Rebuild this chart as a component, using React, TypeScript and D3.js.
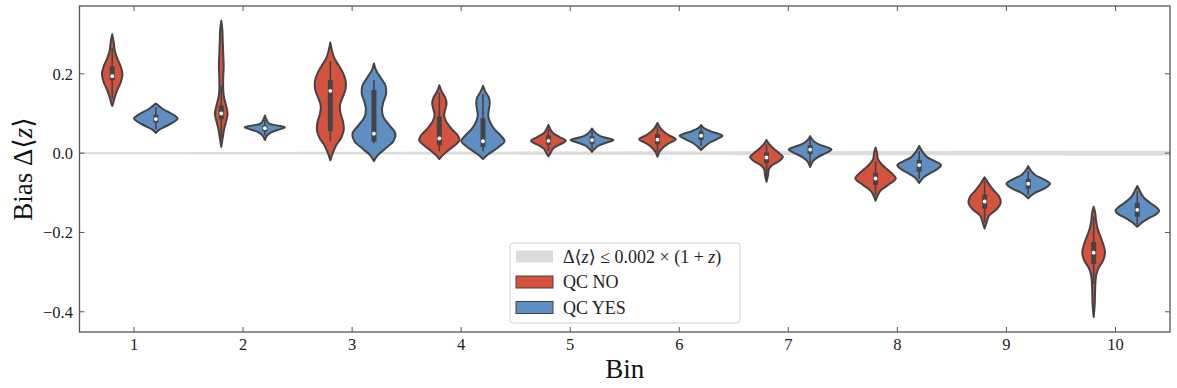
import React from "react";
import * as d3 from "d3";

// ---------- DATA ----------
const bins = ["1", "2", "3", "4", "5", "6", "7", "8", "9", "10"];
const yTicks = [-0.4, -0.2, 0.0, 0.2];
const zBinCenters = [0.3, 0.5, 0.7, 0.9, 1.1, 1.3, 1.5, 1.7, 1.9, 2.1];
const seriesNames = ["QC NO", "QC YES"];

// density profiles: [bias value, relative half-width]
const qcNoProfiles: [number, number][][] = [
  [[0.3, 0], [0.28, 0.07], [0.26, 0.11], [0.24, 0.22], [0.22, 0.38], [0.2, 0.47], [0.18, 0.4], [0.16, 0.24], [0.14, 0.11], [0.125, 0.04], [0.119, 0]],
  [[0.334, 0], [0.31, 0.05], [0.28, 0.07], [0.25, 0.09], [0.22, 0.11], [0.19, 0.09], [0.16, 0.09], [0.14, 0.13], [0.12, 0.22], [0.1, 0.29], [0.08, 0.22], [0.06, 0.13], [0.04, 0.07], [0.016, 0]],
  [[0.279, 0], [0.26, 0.07], [0.24, 0.18], [0.22, 0.4], [0.2, 0.6], [0.18, 0.71], [0.16, 0.69], [0.14, 0.56], [0.12, 0.44], [0.1, 0.47], [0.08, 0.58], [0.06, 0.62], [0.04, 0.51], [0.02, 0.27], [0.0, 0.11], [-0.018, 0]],
  [[0.171, 0], [0.155, 0.11], [0.14, 0.27], [0.125, 0.33], [0.11, 0.27], [0.095, 0.22], [0.08, 0.31], [0.06, 0.58], [0.045, 0.84], [0.033, 0.93], [0.02, 0.71], [0.005, 0.36], [-0.005, 0.16], [-0.015, 0]],
  [[0.071, 0], [0.06, 0.09], [0.05, 0.22], [0.04, 0.53], [0.031, 0.8], [0.022, 0.53], [0.012, 0.22], [0.0, 0.09], [-0.008, 0]],
  [[0.076, 0], [0.065, 0.11], [0.055, 0.27], [0.045, 0.53], [0.035, 0.84], [0.025, 0.53], [0.015, 0.27], [0.003, 0.09], [-0.009, 0]],
  [[0.033, 0], [0.022, 0.13], [0.01, 0.36], [0.0, 0.58], [-0.01, 0.75], [-0.02, 0.58], [-0.03, 0.27], [-0.04, 0.11], [-0.055, 0.07], [-0.072, 0]],
  [[0.014, 0], [0.0, 0.07], [-0.015, 0.11], [-0.03, 0.31], [-0.045, 0.62], [-0.064, 0.93], [-0.08, 0.58], [-0.095, 0.22], [-0.105, 0.11], [-0.12, 0]],
  [[-0.061, 0], [-0.07, 0.11], [-0.08, 0.22], [-0.095, 0.44], [-0.11, 0.67], [-0.125, 0.74], [-0.14, 0.58], [-0.15, 0.36], [-0.16, 0.18], [-0.175, 0.09], [-0.19, 0]],
  [[-0.135, 0], [-0.15, 0.07], [-0.17, 0.11], [-0.19, 0.18], [-0.21, 0.31], [-0.23, 0.44], [-0.25, 0.52], [-0.27, 0.44], [-0.29, 0.22], [-0.31, 0.11], [-0.34, 0.07], [-0.38, 0.05], [-0.413, 0]],
];
const qcYesProfiles: [number, number][][] = [
  [[0.125, 0], [0.118, 0.16], [0.11, 0.36], [0.1, 0.71], [0.0875, 1.0], [0.075, 0.71], [0.065, 0.36], [0.058, 0.13], [0.051, 0]],
  [[0.095, 0], [0.085, 0.07], [0.075, 0.18], [0.07, 0.53], [0.065, 0.92], [0.06, 0.67], [0.052, 0.27], [0.045, 0.11], [0.038, 0.04], [0.033, 0]],
  [[0.226, 0], [0.21, 0.09], [0.19, 0.31], [0.17, 0.53], [0.15, 0.56], [0.13, 0.44], [0.11, 0.37], [0.09, 0.44], [0.07, 0.71], [0.05, 0.98], [0.03, 0.89], [0.01, 0.49], [-0.005, 0.18], [-0.02, 0]],
  [[0.17, 0], [0.155, 0.11], [0.14, 0.27], [0.125, 0.31], [0.11, 0.27], [0.095, 0.24], [0.08, 0.31], [0.06, 0.53], [0.045, 0.8], [0.03, 0.99], [0.015, 0.71], [0.0, 0.31], [-0.008, 0.13], [-0.015, 0]],
  [[0.062, 0], [0.055, 0.09], [0.045, 0.31], [0.038, 0.67], [0.033, 0.98], [0.025, 0.58], [0.018, 0.27], [0.01, 0.11], [0.003, 0]],
  [[0.071, 0], [0.063, 0.13], [0.055, 0.44], [0.048, 0.84], [0.044, 0.98], [0.035, 0.71], [0.025, 0.36], [0.015, 0.13], [0.008, 0]],
  [[0.043, 0], [0.032, 0.13], [0.022, 0.4], [0.015, 0.76], [0.009, 0.98], [0.0, 0.71], [-0.01, 0.36], [-0.02, 0.13], [-0.035, 0]],
  [[0.018, 0], [0.005, 0.13], [-0.01, 0.36], [-0.02, 0.71], [-0.03, 1.0], [-0.04, 0.84], [-0.05, 0.53], [-0.06, 0.22], [-0.068, 0.09], [-0.075, 0]],
  [[-0.033, 0], [-0.045, 0.13], [-0.055, 0.31], [-0.065, 0.67], [-0.077, 1.0], [-0.09, 0.71], [-0.1, 0.31], [-0.108, 0.11], [-0.114, 0]],
  [[-0.083, 0], [-0.095, 0.11], [-0.11, 0.27], [-0.125, 0.58], [-0.135, 0.84], [-0.145, 1.0], [-0.155, 0.84], [-0.165, 0.49], [-0.175, 0.22], [-0.186, 0]],
];

const qcNoMedian = [0.194, 0.1, 0.157, 0.037, 0.031, 0.034, -0.011, -0.064, -0.122, -0.251];
const qcNoQ1 = [0.184, 0.085, 0.056, 0.02, 0.021, 0.022, -0.025, -0.08, -0.14, -0.28];
const qcNoQ3 = [0.219, 0.12, 0.184, 0.092, 0.045, 0.048, 0.002, -0.05, -0.105, -0.224];
const qcNoWhiskerLo = [0.138, 0.04, 0.03, 0.005, 0.005, 0.002, -0.06, -0.105, -0.175, -0.33];
const qcNoWhiskerHi = [0.265, 0.17, 0.232, 0.152, 0.06, 0.065, 0.022, -0.02, -0.07, -0.16];

const qcYesMedian = [0.086, 0.063, 0.049, 0.03, 0.033, 0.044, 0.009, -0.03, -0.077, -0.143];
const qcYesQ1 = [0.077, 0.055, 0.029, 0.016, 0.024, 0.033, -0.002, -0.047, -0.09, -0.16];
const qcYesQ3 = [0.097, 0.07, 0.159, 0.088, 0.042, 0.055, 0.02, -0.017, -0.065, -0.125];
const qcYesWhiskerLo = [0.06, 0.045, 0.025, 0.005, 0.01, 0.018, -0.025, -0.065, -0.105, -0.18];
const qcYesWhiskerHi = [0.115, 0.085, 0.184, 0.15, 0.055, 0.065, 0.035, 0.005, -0.045, -0.095];

// ---------- STYLE ----------
const W = 1177;
const H = 388;
const M = { left: 79.5, right: 1170, top: 6, bottom: 332 };
const RED = "#d5533c";
const BLUE = "#5f8ec2";
const DARK = "#444444";
const AXIS = "#555555";
const BAND = "#dcdcdc";
const FONT = "'Liberation Serif', 'DejaVu Serif', serif";

export default function App() {
  const x = d3.scaleLinear().domain([-0.5, bins.length - 0.5]).range([M.left, M.right]);
  const y = d3.scaleLinear().domain([-0.451, 0.371]).range([M.bottom, M.top]);
  const step = x(1) - x(0);
  const wScale = d3.scaleLinear().domain([0, 1]).range([0, 0.2 * step]);

  const series = [
    { name: seriesNames[0], color: RED, off: -0.2, prof: qcNoProfiles, med: qcNoMedian, q1: qcNoQ1, q3: qcNoQ3, wl: qcNoWhiskerLo, wh: qcNoWhiskerHi },
    { name: seriesNames[1], color: BLUE, off: 0.2, prof: qcYesProfiles, med: qcYesMedian, q1: qcYesQ1, q3: qcYesQ3, wl: qcYesWhiskerLo, wh: qcYesWhiskerHi },
  ];

  const violins: React.ReactNode[] = [];
  series.forEach((s, si) => {
    bins.forEach((b, i) => {
      const cx = x(i + s.off);
      const area = d3
        .area<[number, number]>()
        .y((d) => y(d[0]))
        .x0((d) => cx - wScale(d[1]))
        .x1((d) => cx + wScale(d[1]))
        .curve(d3.curveCatmullRom.alpha(0.5));
      violins.push(
        <g key={`v${si}-${i}`}>
          <path d={area(s.prof[i]) || ""} fill={s.color} stroke={DARK} strokeWidth={2} strokeLinejoin="round" />
          <line x1={cx} x2={cx} y1={y(s.wl[i])} y2={y(s.wh[i])} stroke={DARK} strokeWidth={1.6} />
          <line x1={cx} x2={cx} y1={y(s.q1[i])} y2={y(s.q3[i])} stroke={DARK} strokeWidth={5} />
          <circle cx={cx} cy={y(s.med[i])} r={1.9} fill="white" />
        </g>
      );
    });
  });

  const legendX = 510;
  const legendY = 243;
  const legendRows = [
    { type: "band", color: BAND },
    { type: "s", color: RED, label: seriesNames[0] },
    { type: "s", color: BLUE, label: seriesNames[1] },
  ];

  return (
    <div style={{ position: "absolute", left: 0, top: 0 }}>
      <svg width={W} height={H} style={{ display: "block", background: "white" }}>
        {/* band */}
        {bins.map((b, i) => (
          <rect
            key={`band${i}`}
            x={x(i - 0.5)}
            width={step}
            y={y(0.002 * (1 + zBinCenters[i]))}
            height={y(-0.002 * (1 + zBinCenters[i])) - y(0.002 * (1 + zBinCenters[i]))}
            fill={BAND}
          />
        ))}
        {violins}

        {/* frame */}
        <rect x={M.left} y={M.top} width={M.right - M.left} height={M.bottom - M.top} fill="none" stroke={AXIS} strokeWidth={1.3} />

        {/* x ticks */}
        {bins.map((b, i) => (
          <g key={`xt${i}`}>
            <line x1={x(i)} x2={x(i)} y1={M.bottom} y2={M.bottom - 5} stroke={AXIS} strokeWidth={1} />
            <line x1={x(i)} x2={x(i)} y1={M.top} y2={M.top + 5} stroke={AXIS} strokeWidth={1} />
            <text x={x(i)} y={349.5} textAnchor="middle" fontFamily={FONT} fontSize={16.5} fill="#222">
              {b}
            </text>
          </g>
        ))}
        {/* y ticks */}
        {yTicks.map((t) => (
          <g key={`yt${t}`}>
            <line x1={M.left} x2={M.left + 5} y1={y(t)} y2={y(t)} stroke={AXIS} strokeWidth={1} />
            <line x1={M.right} x2={M.right - 5} y1={y(t)} y2={y(t)} stroke={AXIS} strokeWidth={1} />
            <text x={73} y={y(t)} dy="0.35em" textAnchor="end" fontFamily={FONT} fontSize={16.5} fill="#222">
              {(t < 0 ? "\u2212" : "") + Math.abs(t).toFixed(1)}
            </text>
          </g>
        ))}

        {/* axis labels */}
        <text x={(M.left + M.right) / 2} y={378} textAnchor="middle" fontFamily={FONT} fontSize={27} fill="#111">
          Bin
        </text>
        <text
          transform={`translate(32, ${(M.top + M.bottom) / 2}) rotate(-90)`}
          textAnchor="middle"
          fontFamily={FONT}
          fontSize={27}
          fill="#111"
        >
          Bias Δ⟨<tspan fontStyle="italic">z</tspan>⟩
        </text>

        {/* legend */}
        <rect x={legendX} y={legendY} width={230} height={80} rx={3} fill="white" fillOpacity={0.85} stroke="#d0d0d0" strokeWidth={1} />
        {legendRows.map((r, k) => {
          const cy = 256.5 + k * 25.5;
          return (
            <g key={`lg${k}`}>
              {r.type === "band" ? (
                <rect x={516} y={cy - 6} width={37} height={12} fill={r.color} />
              ) : (
                <rect x={516} y={cy - 6} width={37} height={12} fill={r.color} stroke={DARK} strokeWidth={1} />
              )}
              <text x={563} y={cy} dy="0.35em" fontFamily={FONT} fontSize={18} fill="#222">
                {r.type === "band" ? (
                  <>
                    Δ⟨<tspan fontStyle="italic">z</tspan>⟩ ≤ 0.002 × (1 + <tspan fontStyle="italic">z</tspan>)
                  </>
                ) : (
                  r.label
                )}
              </text>
            </g>
          );
        })}
      </svg>
    </div>
  );
}
